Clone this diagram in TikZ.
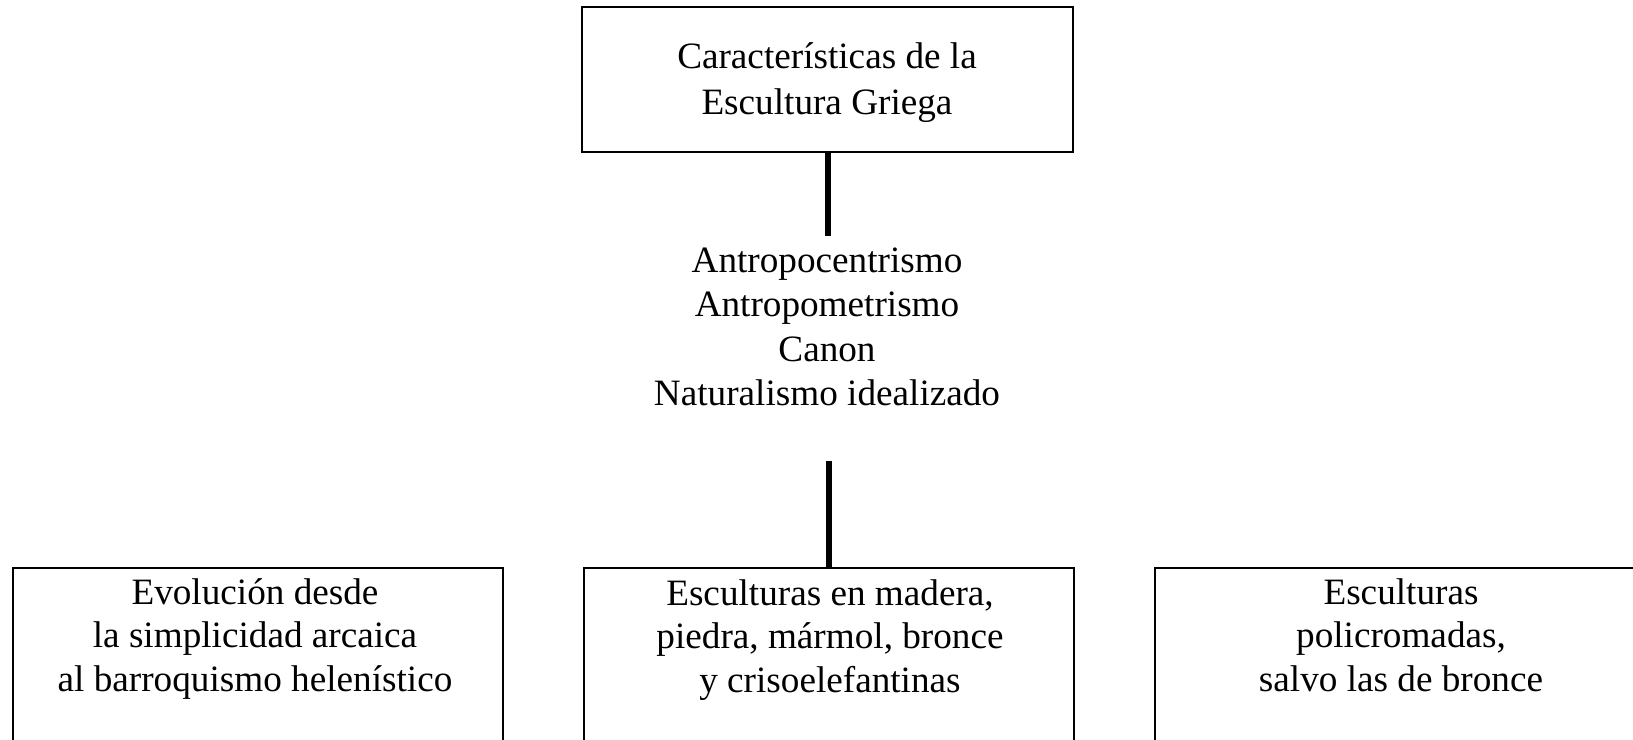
\documentclass[tikz,border=0pt]{standalone}
\usepackage{fontspec}
\setmainfont{Liberation Serif}
\begin{document}
\begin{tikzpicture}[x=0.5pt,y=-0.5pt,
  box/.style={draw=black, line width=1pt, rectangle, inner sep=0pt, outer sep=0pt},
  txt/.style={inner sep=0pt, outer sep=0pt, anchor=base},
  link/.style={draw=black, line width=3.2pt}]
\useasboundingbox (0,0) rectangle (1633,739);
\clip (0,0) rectangle (1633,739);
% boxes
\node[box, minimum width=245.5pt, minimum height=72.5pt] (top) at (827.5,79.5) {};
\node[box, minimum width=245pt, minimum height=106pt] (left) at (258,674) {};
\node[box, minimum width=245pt, minimum height=106pt] (mid) at (829,674) {};
\node[box, minimum width=245pt, minimum height=106pt] (right) at (1400,674) {};
% texts
\node[txt, font=\fontsize{18.6}{23.5}\selectfont] (toptext) at (827,68)
  {\begin{tabular}[t]{@{}c@{}}Características de la\\Escultura Griega\end{tabular}};
\node[txt, font=\fontsize{18.6}{22.25}\selectfont] (midtext) at (827,272)
  {\begin{tabular}[t]{@{}c@{}}Antropocentrismo\\Antropometrismo\\Canon\\Naturalismo idealizado\end{tabular}};
\node[txt, font=\fontsize{18.6}{21.75}\selectfont] (lefttext) at (255,604)
  {\begin{tabular}[t]{@{}c@{}}Evolución desde\\la simplicidad arcaica\\al barroquismo helenístico\end{tabular}};
\node[txt, font=\fontsize{18.6}{21.75}\selectfont] (midboxtext) at (830,605)
  {\begin{tabular}[t]{@{}c@{}}Esculturas en madera,\\piedra, mármol, bronce\\y crisoelefantinas\end{tabular}};
\node[txt, font=\fontsize{18.6}{21.75}\selectfont] (righttext) at (1401,604)
  {\begin{tabular}[t]{@{}c@{}}Esculturas\\policromadas,\\salvo las de bronce\end{tabular}};
% connectors
\coordinate (c1) at (828,236);
\coordinate (c2) at (829,461);
\draw[link] (top.south -| c1) -- (c1);
\draw[link] (c2) -- (c2 |- mid.north);
\end{tikzpicture}
\end{document}
